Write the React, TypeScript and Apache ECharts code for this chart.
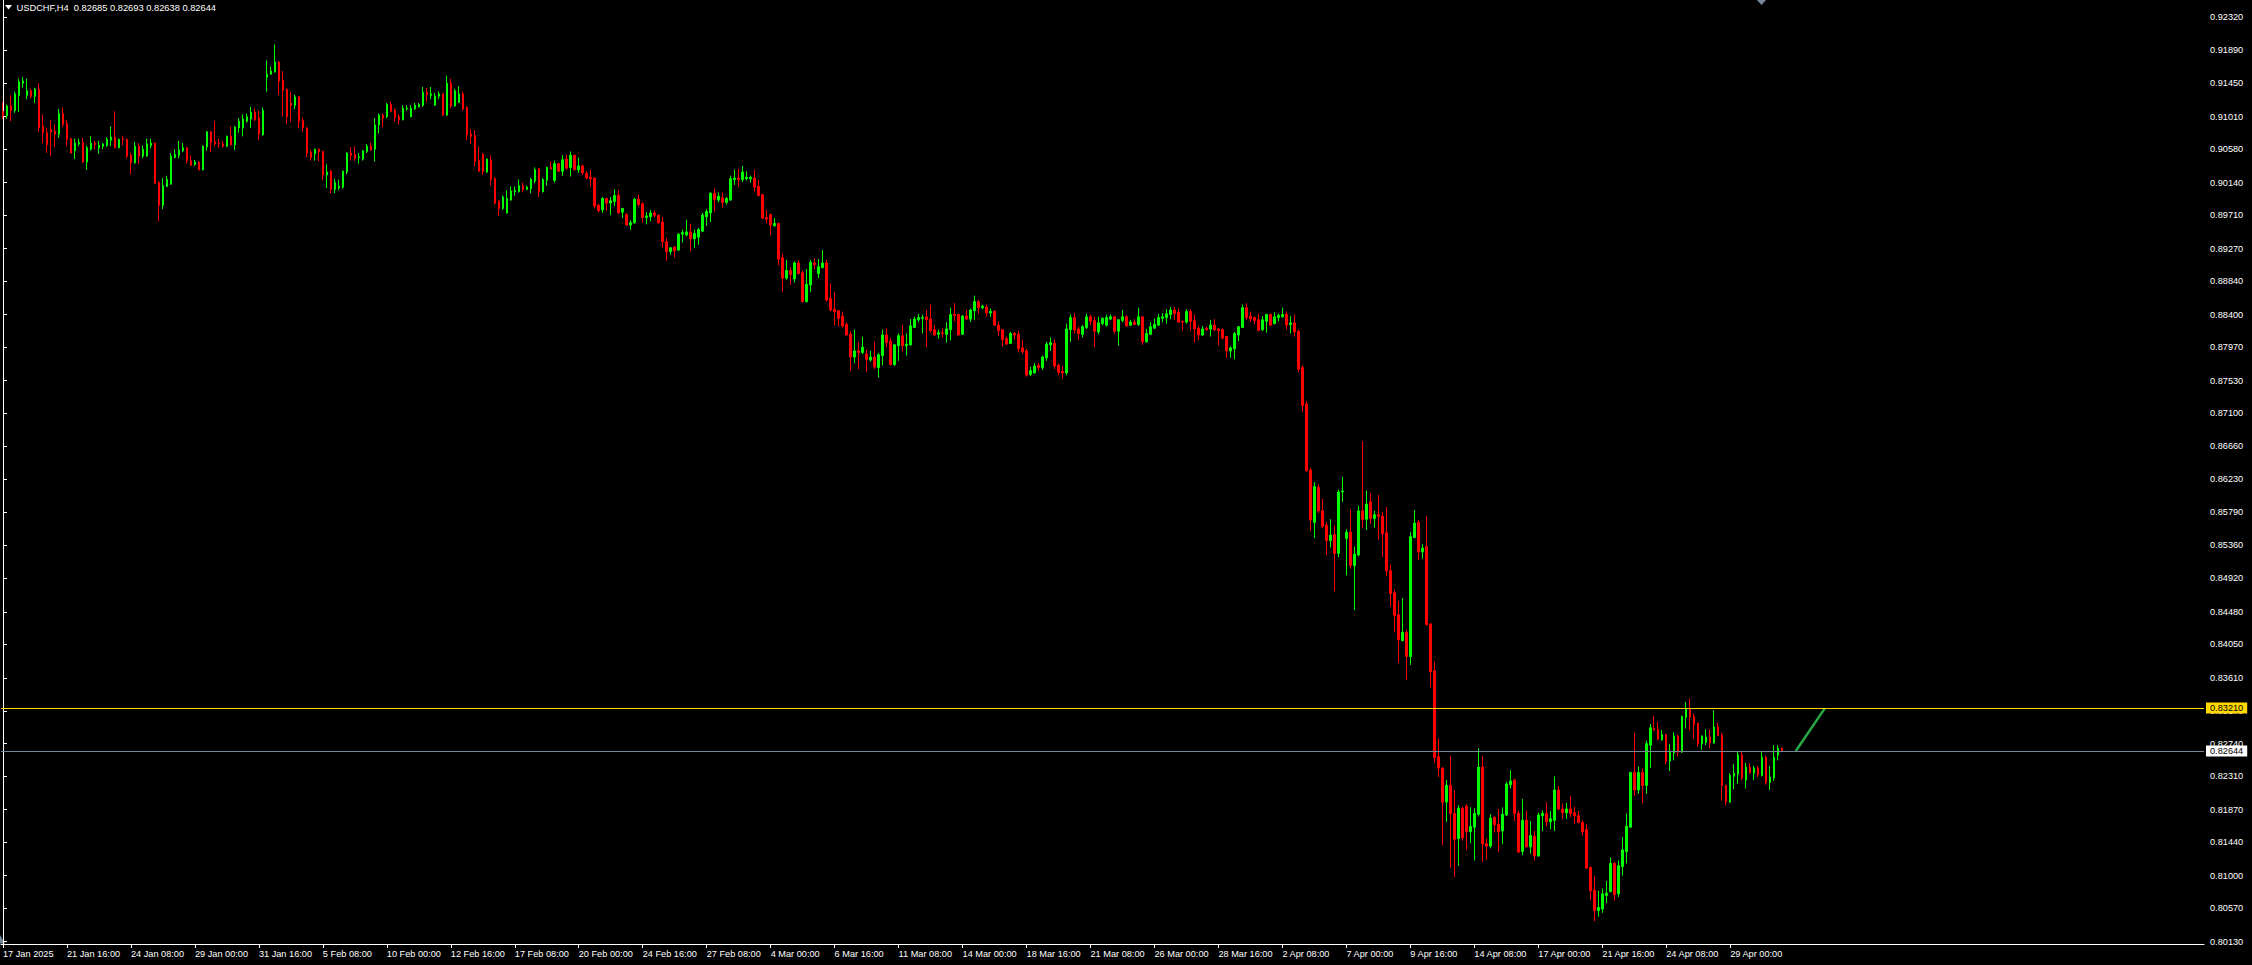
import React, { useEffect, useRef } from 'react';
import * as echarts from 'echarts';

// ---------- data (prices in pips, 1 pip = 0.0001) ----------
const SYMBOL = 'USDCHF,H4';

const TICK_LABELS = [
  '17 Jan 2025', '21 Jan 16:00', '24 Jan 08:00', '29 Jan 00:00', '31 Jan 16:00', '5 Feb 08:00',
  '10 Feb 00:00', '12 Feb 16:00', '17 Feb 08:00', '20 Feb 00:00', '24 Feb 16:00', '27 Feb 08:00',
  '4 Mar 00:00', '6 Mar 16:00', '11 Mar 08:00', '14 Mar 00:00', '18 Mar 16:00', '21 Mar 08:00',
  '26 Mar 00:00', '28 Mar 16:00', '2 Apr 08:00', '7 Apr 00:00', '9 Apr 16:00', '14 Apr 08:00',
  '17 Apr 00:00', '21 Apr 16:00', '24 Apr 08:00', '29 Apr 00:00',
];
const BARS_PER_TICK = 16;
const SLOTS = 551;

const PRICE_TICKS = [
  0.9232, 0.9189, 0.9145, 0.9101, 0.9058, 0.9014, 0.8971, 0.8927, 0.8884, 0.884,
  0.8797, 0.8753, 0.871, 0.8666, 0.8623, 0.8579, 0.8536, 0.8492, 0.8448, 0.8405,
  0.8361, 0.8317, 0.8274, 0.8231, 0.8187, 0.8144, 0.81, 0.8057, 0.8013,
];
const Y_MIN = 0.80099;
const Y_MAX = 0.92548;
const LEVEL = 0.8321;
const TREND_X = [448.4, 455.7];
const TREND_Y = [0.82644, 0.8321];

const OPEN = [
  9108,9102,9115,9109,9129,9145,9129,9135,9128,9137,
  9088,9080,9084,9082,9078,9105,9092,9072,9056,9065,
  9067,9041,9058,9066,9060,9062,9063,9070,9074,9060,
  9072,9071,9050,9040,9062,9049,9049,9063,9066,9014,
  8984,9009,9012,9047,9050,9056,9060,9043,9038,9041,
  9031,9061,9081,9068,9066,9065,9062,9075,9064,9086,
  9086,9095,9098,9107,9099,9077,9153,9157,9160,9173,
  9149,9137,9119,9116,9127,9096,9086,9054,9052,9058,
  9055,9024,9029,9005,9007,9008,9028,9053,9051,9047,
  9045,9055,9062,9058,9090,9103,9101,9117,9109,9101,
  9097,9111,9101,9111,9114,9116,9133,9129,9116,9128,
  9131,9103,9145,9115,9120,9131,9113,9078,9076,9043,
  9051,9028,9044,9019,8989,8980,8974,8991,9002,9002,
  9010,9005,9006,9016,9032,9002,9017,9034,9017,9039,
  9029,9045,9034,9050,9031,9036,9026,9021,9020,8984,
  8978,8993,8987,8989,8997,8975,8972,8958,8961,8992,
  8986,8968,8969,8974,8971,8962,8936,8923,8929,8925,
  8946,8945,8949,8940,8942,8950,8969,8974,9000,8991,
  8994,8988,8991,9018,9020,9018,9019,9019,9020,9009,
  8998,8968,8972,8957,8960,8915,8888,8898,8887,8908,
  8895,8857,8879,8908,8894,8902,8908,8861,8847,8845,
  8838,8827,8814,8784,8792,8790,8788,8780,8784,8770,
  8786,8813,8805,8774,8799,8812,8799,8800,8823,8833,
  8835,8837,8834,8820,8814,8816,8814,8820,8840,8840,
  8814,8838,8834,8845,8857,8849,8850,8842,8844,8826,
  8820,8808,8802,8815,8814,8796,8792,8761,8763,8773,
  8770,8783,8800,8802,8773,8765,8763,8820,8836,8821,
  8814,8823,8837,8832,8817,8828,8826,8834,8837,8818,
  8832,8837,8826,8830,8827,8837,8804,8814,8822,8826,
  8835,8836,8840,8846,8843,8831,8830,8844,8832,8822,
  8813,8822,8821,8826,8821,8820,8811,8792,8795,8813,
  8823,8849,8838,8836,8833,8820,8831,8840,8828,8836,
  8837,8840,8827,8829,8818,8770,8722,8635,8566,8612,
  8581,8562,8542,8550,8525,8606,8545,8553,8509,8523,
  8581,8570,8593,8571,8576,8574,8552,8502,8473,8444,
  8410,8421,8389,8546,8566,8527,8534,8432,8370,8257,
  8242,8197,8219,8182,8149,8189,8192,8158,8164,8181,
  8243,8142,8139,8177,8168,8159,8180,8220,8226,8182,
  8132,8173,8138,8152,8126,8179,8182,8171,8173,8213,
  8188,8183,8188,8183,8179,8170,8161,8111,8081,8054,
  8056,8074,8079,8116,8076,8112,8132,8164,8236,8213,
  8236,8219,8272,8294,8293,8279,8286,8251,8262,8284,
  8263,8309,8320,8310,8301,8274,8276,8283,8275,8296,
  8285,8219,8197,8231,8234,8259,8226,8243,8235,8242,
  8232,8256,8223,8229,8259,8268.5,
];

const HIGH = [
  9120,9117,9129,9134,9151,9153,9151,9138,9139,9145,
  9104,9086,9097,9091,9111,9113,9097,9073,9072,9072,
  9073,9063,9075,9069,9069,9066,9074,9088,9108,9072,
  9076,9072,9053,9068,9066,9063,9072,9072,9067,9016,
  9020,9023,9053,9058,9069,9066,9061,9050,9044,9042,
  9063,9082,9082,9095,9072,9069,9076,9088,9089,9099,
  9104,9105,9114,9112,9109,9113,9175,9167,9196,9174,
  9161,9138,9134,9130,9128,9100,9087,9057,9059,9059,
  9056,9038,9031,9019,9018,9030,9054,9061,9062,9053,
  9057,9065,9067,9099,9105,9105,9119,9121,9112,9104,
  9116,9116,9116,9119,9119,9140,9139,9140,9132,9134,
  9132,9155,9151,9138,9141,9134,9115,9085,9083,9062,
  9053,9046,9050,9021,8991,8997,9004,9009,9009,9018,
  9014,9010,9020,9034,9033,9020,9035,9042,9043,9040,
  9050,9051,9055,9051,9047,9038,9029,9031,9021,8986,
  8995,8994,8995,9005,9004,8980,8974,8964,8994,8998,
  8988,8975,8978,8977,8972,8969,8941,8929,8930,8947,
  8952,8965,8960,8952,8954,8974,8979,9001,9006,9001,
  9001,8995,9023,9031,9032,9036,9029,9023,9031,9018,
  8999,8978,8973,8967,8961,8920,8912,8902,8910,8912,
  8898,8900,8912,8914,8913,8925,8912,8881,8870,8846,
  8844,8830,8818,8820,8804,8811,8794,8792,8804,8789,
  8820,8822,8809,8801,8815,8826,8815,8834,8837,8841,
  8840,8846,8853,8826,8820,8822,8830,8849,8855,8841,
  8839,8846,8848,8865,8859,8853,8853,8848,8846,8831,
  8821,8811,8817,8817,8819,8807,8795,8771,8776,8776,
  8786,8804,8810,8807,8775,8772,8828,8840,8842,8824,
  8826,8841,8840,8837,8837,8836,8840,8840,8838,8834,
  8846,8839,8833,8834,8849,8838,8821,8830,8835,8841,
  8842,8847,8850,8850,8848,8832,8847,8847,8840,8825,
  8825,8824,8833,8834,8822,8822,8812,8798,8817,8825,
  8853,8855,8844,8837,8841,8838,8841,8841,8843,8841,
  8849,8844,8838,8840,8820,8773,8726,8638,8619,8616,
  8597,8566,8570,8562,8609,8626,8557,8583,8534,8588,
  8673,8608,8604,8581,8602,8580,8586,8510,8477,8462,
  8466,8424,8553,8582,8569,8537,8574,8433,8382,8281,
  8243,8226,8258,8213,8193,8191,8194,8190,8189,8268,
  8258,8149,8181,8178,8188,8190,8224,8239,8228,8186,
  8201,8186,8172,8159,8183,8186,8197,8185,8231,8218,
  8195,8196,8205,8191,8185,8173,8168,8112,8099,8080,
  8083,8093,8124,8118,8120,8151,8182,8237,8288,8244,
  8241,8278,8300,8311,8303,8292,8287,8274,8289,8286,
  8311,8329,8334,8314,8302,8285,8293,8293,8318,8302,
  8288,8220,8235,8247,8263,8263,8249,8248,8245,8245,
  8263,8258,8245,8272,8272,8269.3,
];

const LOW = [
  9098,9098,9095,9106,9107,9139,9124,9125,9119,9081,
  9066,9053,9049,9061,9073,9087,9062,9052,9045,9062,
  9040,9031,9056,9058,9052,9058,9061,9062,9059,9059,
  9063,9046,9025,9039,9039,9046,9048,9059,9012,8963,
  8979,9008,9011,9046,9046,9054,9039,9036,9036,9030,
  9030,9056,9054,9062,9060,9060,9061,9063,9057,9080,
  9075,9093,9086,9095,9070,9076,9134,9156,9159,9130,
  9101,9091,9094,9111,9086,9081,9048,9043,9043,9042,
  9017,9007,9000,9000,9004,9006,9025,9043,9043,9039,
  9043,9053,9056,9042,9079,9087,9099,9107,9094,9091,
  9096,9109,9100,9110,9113,9114,9121,9124,9115,9124,
  9102,9102,9112,9114,9119,9109,9070,9065,9035,9028,
  9024,9027,9010,8985,8970,8978,8973,8990,8997,9001,
  9001,9004,9000,9013,8995,9001,9010,9031,9014,9028,
  9023,9031,9022,9030,9027,9024,9018,9009,8980,8975,
  8974,8977,8971,8983,8973,8967,8957,8952,8960,8983,
  8961,8959,8963,8968,8960,8928,8911,8919,8915,8924,
  8935,8943,8924,8928,8932,8949,8957,8962,8976,8988,
  8981,8985,8990,9011,9009,9015,9017,9014,9002,8996,
  8966,8960,8945,8956,8905,8870,8886,8879,8882,8893,
  8856,8856,8870,8900,8888,8901,8857,8844,8826,8824,
  8823,8812,8766,8776,8768,8788,8764,8778,8768,8757,
  8773,8797,8773,8772,8779,8791,8786,8799,8822,8830,
  8815,8797,8816,8812,8808,8810,8803,8806,8831,8812,
  8813,8833,8830,8833,8841,8847,8837,8837,8825,8812,
  8798,8800,8801,8807,8791,8788,8758,8759,8762,8766,
  8767,8779,8792,8768,8760,8756,8760,8804,8815,8807,
  8810,8821,8826,8797,8814,8826,8824,8833,8815,8799,
  8830,8824,8825,8826,8825,8800,8803,8813,8821,8825,
  8830,8828,8834,8833,8829,8819,8828,8819,8803,8806,
  8812,8819,8811,8818,8799,8807,8783,8783,8781,8805,
  8822,8833,8830,8827,8818,8818,8816,8825,8827,8831,
  8836,8820,8815,8811,8764,8712,8633,8555,8545,8578,
  8558,8523,8533,8475,8520,8593,8496,8505,8450,8521,
  8559,8556,8564,8559,8543,8520,8495,8455,8421,8381,
  8409,8358,8378,8545,8516,8518,8430,8348,8249,8230,
  8140,8171,8110,8098,8113,8146,8134,8143,8120,8178,
  8118,8121,8136,8157,8131,8142,8179,8215,8172,8130,
  8127,8137,8129,8120,8125,8159,8165,8161,8159,8186,
  8174,8175,8177,8168,8169,8153,8109,8068,8040,8046,
  8051,8064,8078,8067,8072,8100,8116,8163,8205,8208,
  8196,8208,8242,8291,8279,8278,8247,8238,8252,8257,
  8262,8294,8292,8281,8270,8266,8272,8268,8274,8284,
  8199,8193,8196,8214,8221,8226,8215,8234,8226,8230,
  8231,8220,8213,8225,8252,8263.8,
];

const CLOSE = [
  9102,9115,9109,9131,9147,9148,9135,9128,9137,9086,
  9080,9064,9081,9078,9105,9091,9071,9053,9066,9067,
  9041,9060,9066,9064,9063,9065,9071,9074,9060,9071,
  9071,9049,9040,9062,9049,9058,9065,9066,9013,8984,
  9010,9018,9049,9051,9057,9060,9043,9037,9041,9031,
  9062,9081,9067,9065,9065,9062,9075,9064,9087,9095,
  9098,9101,9107,9097,9078,9109,9157,9161,9173,9148,
  9136,9101,9116,9127,9095,9086,9053,9047,9058,9055,
  9024,9028,9005,9014,9009,9029,9053,9050,9046,9048,
  9056,9062,9057,9090,9103,9099,9117,9108,9100,9097,
  9112,9112,9112,9116,9117,9133,9130,9131,9128,9131,
  9103,9145,9115,9135,9131,9111,9077,9075,9042,9029,
  9029,9045,9018,8987,8980,8995,8993,9003,9004,9010,
  9005,9008,9018,9031,9002,9018,9034,9032,9039,9029,
  9044,9033,9050,9031,9036,9027,9020,9019,8983,8977,
  8993,8987,8990,8997,8974,8980,8958,8961,8992,8985,
  8968,8970,8974,8971,8961,8936,8923,8928,8924,8946,
  8948,8949,8940,8947,8952,8971,8976,9000,8992,8996,
  8988,8993,9019,9020,9018,9028,9021,9021,9008,8997,
  8967,8966,8958,8960,8913,8888,8898,8893,8908,8894,
  8857,8880,8909,8906,8903,8908,8859,8846,8844,8835,
  8825,8813,8784,8792,8790,8797,8781,8784,8771,8787,
  8813,8803,8774,8800,8812,8799,8801,8825,8834,8836,
  8836,8833,8819,8813,8816,8815,8821,8840,8839,8813,
  8838,8834,8846,8857,8849,8851,8842,8844,8826,8819,
  8807,8801,8815,8813,8795,8791,8760,8766,8772,8770,
  8784,8801,8803,8772,8764,8763,8821,8836,8820,8815,
  8824,8837,8831,8818,8829,8835,8836,8837,8818,8833,
  8837,8825,8830,8827,8837,8804,8815,8824,8827,8836,
  8837,8841,8846,8841,8830,8830,8844,8831,8821,8813,
  8821,8820,8826,8820,8819,8809,8792,8796,8815,8824,
  8849,8836,8834,8832,8819,8833,8840,8826,8837,8839,
  8840,8826,8829,8817,8768,8720,8634,8569,8613,8581,
  8561,8542,8549,8525,8606,8607,8553,8509,8524,8581,
  8570,8590,8571,8576,8574,8551,8502,8472,8443,8411,
  8421,8389,8547,8565,8527,8532,8431,8369,8256,8242,
  8197,8219,8182,8148,8189,8150,8158,8165,8182,8243,
  8142,8139,8176,8167,8158,8181,8221,8225,8182,8131,
  8173,8138,8153,8126,8180,8182,8171,8175,8213,8188,
  8183,8188,8182,8179,8170,8158,8110,8080,8054,8058,
  8076,8077,8116,8075,8113,8134,8165,8236,8213,8236,
  8219,8274,8295,8292,8280,8286,8251,8263,8284,8263,
  8310,8320,8309,8299,8274,8284,8283,8275,8296,8285,
  8219,8197,8232,8235,8259,8229,8243,8236,8242,8233,
  8256,8223,8230,8256,8268,8264.4,
];

// ---------- chart ----------
const FONT = '"Liberation Sans", Arial, sans-serif';
const BULL = '#00FF00';
const BEAR = '#FF0000';
const LEVEL_COLOR = '#FFD700';
const BID_COLOR = '#778899';

const fmtPips = (p: number) => (Math.round(p * 10) / 100000).toFixed(5);

export default function App() {
  const ref = useRef<HTMLDivElement>(null);

  useEffect(() => {
    document.body.style.margin = '0';
    document.body.style.background = '#000';
    if (!ref.current) return;
    const chart = echarts.init(ref.current, undefined, { renderer: 'svg' });

    const n = OPEN.length;
    const categories = Array.from({ length: SLOTS }, (_, i) => String(i));
    const candles = OPEN.map((o, i) => [o / 1e4, CLOSE[i] / 1e4, LOW[i] / 1e4, HIGH[i] / 1e4]);
    const lastClose = Math.round(CLOSE[n - 1] * 10) / 100000;
    const title = `${SYMBOL}  ${fmtPips(OPEN[n - 1])} ${fmtPips(HIGH[n - 1])} ${fmtPips(LOW[n - 1])} ${fmtPips(CLOSE[n - 1])}`;
    const showTick = (i: number) => i % BARS_PER_TICK === 0 && i / BARS_PER_TICK < TICK_LABELS.length;

    const boxLabel = (bg: string) => ({
      show: true,
      position: 'end',
      distance: 2,
      formatter: (p: any) => Number(p.value).toFixed(5),
      backgroundColor: bg,
      color: '#000',
      fontSize: 9.2,
      fontFamily: FONT,
      lineHeight: 10,
      padding: [1, 4, 0, 4],
    });

    chart.setOption({
      backgroundColor: '#000000',
      animation: false,
      textStyle: { fontFamily: FONT },
      grid: { left: 0, right: 48, top: 0, bottom: 21, containLabel: false },
      xAxis: [
        {
          type: 'category',
          data: categories,
          boundaryGap: true,
          axisLine: { show: true, lineStyle: { color: '#FFFFFF', width: 1 } },
          axisTick: {
            show: true,
            alignWithLabel: true,
            length: 4,
            interval: (i: number) => showTick(i),
            lineStyle: { color: '#FFFFFF' },
          },
          axisLabel: {
            show: true,
            interval: (i: number) => showTick(i),
            formatter: (_v: string, i: number) => TICK_LABELS[i / BARS_PER_TICK] ?? '',
            color: '#FFFFFF',
            fontSize: 9.2,
            fontFamily: FONT,
            align: 'left',
            margin: 5,
          },
          splitLine: { show: false },
        },
        { type: 'value', min: -0.5, max: SLOTS - 0.5, show: false },
      ],
      yAxis: {
        type: 'value',
        position: 'right',
        min: Y_MIN,
        max: Y_MAX,
        scale: true,
        axisLine: { show: true, lineStyle: { color: '#FFFFFF', width: 1 } },
        axisTick: { show: true, length: 4, customValues: PRICE_TICKS, lineStyle: { color: '#FFFFFF' } },
        axisLabel: {
          customValues: PRICE_TICKS,
          formatter: (v: number) => v.toFixed(5),
          color: '#FFFFFF',
          fontSize: 9.2,
          fontFamily: FONT,
          margin: 6,
          align: 'left',
        },
        splitLine: { show: false },
      },
      series: [
        {
          type: 'candlestick',
          data: candles,
          barWidth: 2,
          itemStyle: {
            color: BULL,
            color0: BEAR,
            borderColor: BULL,
            borderColor0: BEAR,
            borderWidth: 1,
          },
          markLine: {
            silent: true,
            symbol: ['none', 'none'],
            animation: false,
            precision: 5,
            data: [
              { yAxis: LEVEL, lineStyle: { color: LEVEL_COLOR, width: 1, type: 'solid' }, label: boxLabel(LEVEL_COLOR) },
              { yAxis: lastClose, lineStyle: { color: BID_COLOR, width: 1, type: 'solid' }, label: boxLabel('#FFFFFF') },
            ],
          },
        },
        {
          type: 'line',
          xAxisIndex: 1,
          data: TREND_X.map((x, i) => [x, TREND_Y[i]]),
          symbol: 'none',
          silent: true,
          lineStyle: { color: '#27A844', width: 2.5 },
        },
      ],
      graphic: [
        { type: 'polygon', shape: { points: [[5, 5], [12, 5], [8.5, 9.5]] }, style: { fill: '#FFFFFF' }, silent: true },
        {
          type: 'text',
          x: 16.5,
          y: 7.5,
          silent: true,
          style: { text: title, fill: '#FFFFFF', fontSize: 9.3, fontFamily: FONT, verticalAlign: 'middle', textVerticalAlign: 'middle' },
        },
        { type: 'polygon', shape: { points: [[1757, 0], [1766, 0], [1761.5, 5]] }, style: { fill: '#778899' }, silent: true },
        { type: 'polygon', shape: { points: [[0, 935], [0, 943.5], [5, 943.5]] }, style: { fill: '#778899' }, silent: true },
      ],
    });

    return () => chart.dispose();
  }, []);

  return (
    <div
      ref={ref}
      style={{ position: 'fixed', left: 0, top: 0, width: 2252, height: 965, background: '#000' }}
    />
  );
}
